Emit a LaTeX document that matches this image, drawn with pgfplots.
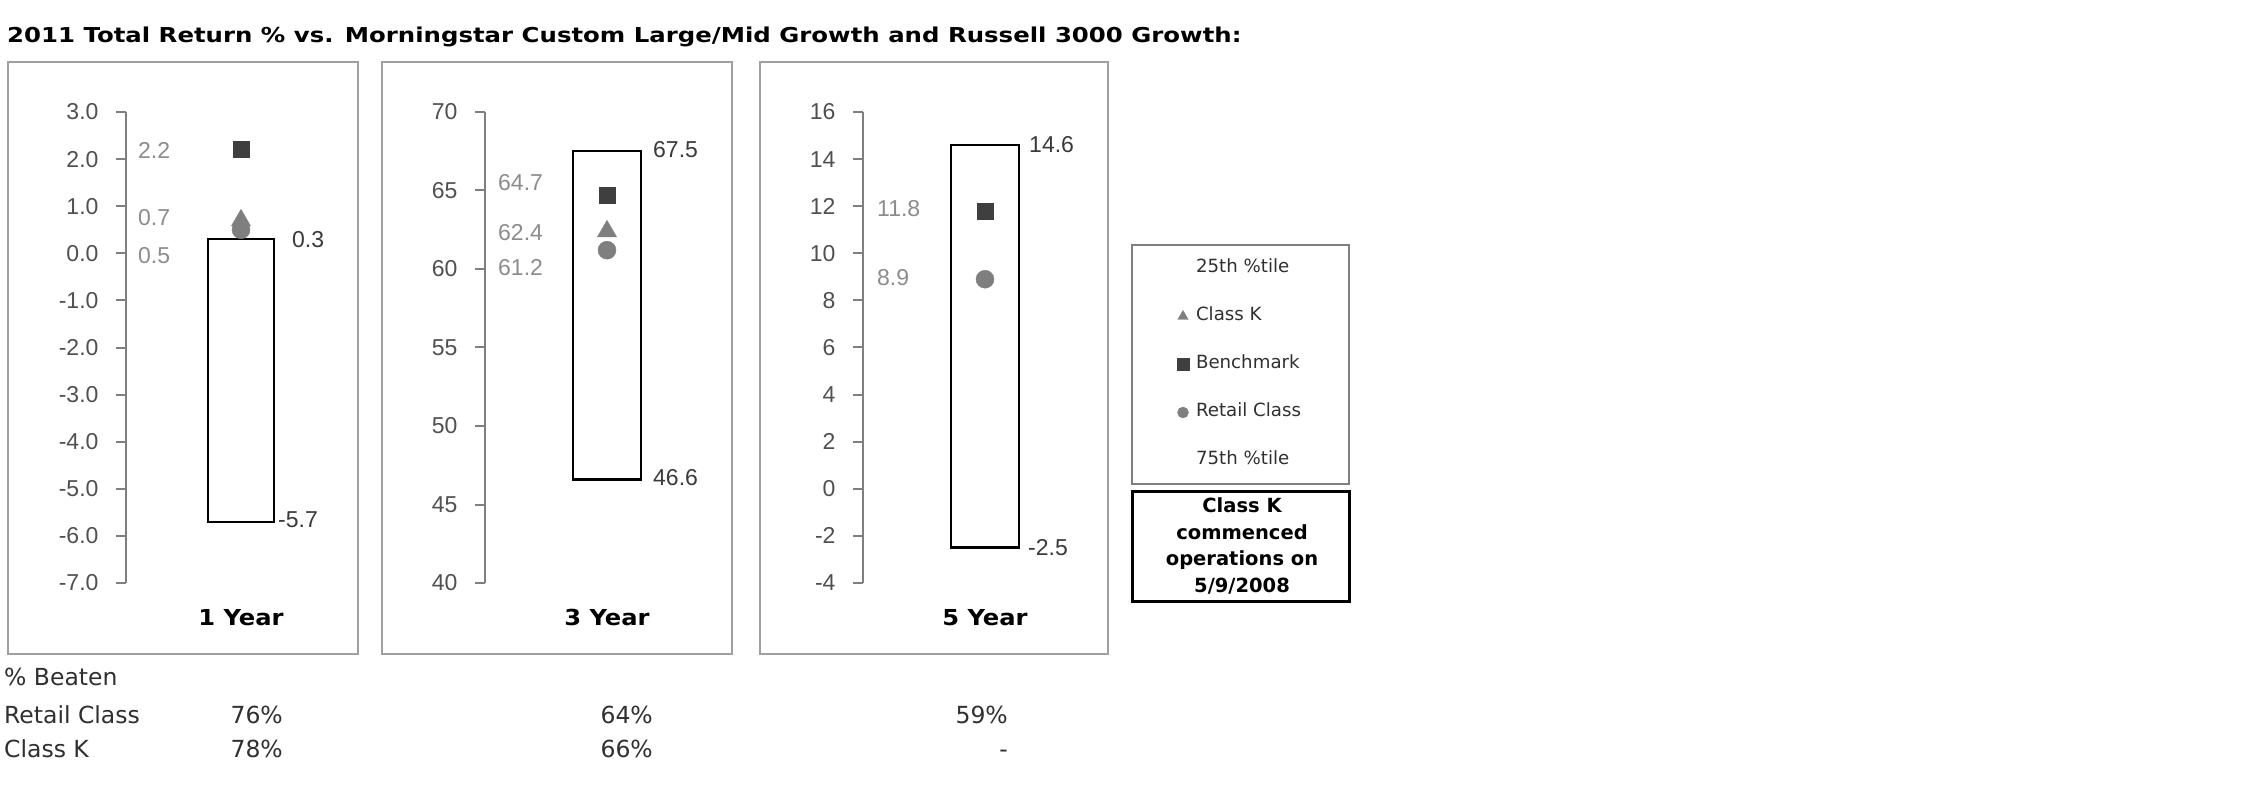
\documentclass[border=0pt]{standalone}
\usepackage{fontspec}
\setmainfont{Liberation Sans}
\newfontfamily\dv{DejaVu Sans}
\usepackage{pgfplots}
\pgfplotsset{compat=1.18}
\definecolor{tickc}{HTML}{505050}
\definecolor{axc}{HTML}{7F7F7F}
\definecolor{lblL}{HTML}{8C8C8C}
\definecolor{lblR}{HTML}{3A3A3A}
\definecolor{framec}{HTML}{A0A0A0}
\definecolor{mdark}{HTML}{3F3F3F}
\definecolor{mgray}{HTML}{7F7F7F}
\definecolor{txt}{HTML}{303030}
\newcommand{\lblfont}{\fontsize{23pt}{27pt}\selectfont}
\tikzset{
  lblL/.style={anchor=west, inner sep=0pt, text=lblL, font=\lblfont},
  lblR/.style={anchor=west, inner sep=0pt, text=lblR, font=\lblfont},
}
\pgfplotsset{panel/.style={
  scale only axis, width=250pt, height=471pt, xmin=0, xmax=250,
  axis y line*=left, axis x line=none, clip=false,
  axis line style={draw=axc, line width=2pt},
  tick align=outside, major tick length=10pt,
  ytick style={draw=axc, line width=2pt},
  xtick=\empty,
  yticklabel style={font=\lblfont, text=tickc, xshift=-14pt},
  /pgf/number format/assume math mode=true,
  anchor=south west,
},
boxp/.style={draw=black, line width=2.5pt, fill=white, line join=miter},
single mark legend/.style={legend image code/.code={\draw[##1] plot coordinates {(0pt,0pt)};}},
}
\begin{document}
\begin{tikzpicture}
\fill[white] (0pt,0pt) rectangle (2250pt,796pt);
\path[use as bounding box] (0pt,0pt) rectangle (2250pt,796pt);
% title
\node[anchor=base west, inner sep=0pt, text=black, font=\dv\bfseries\fontsize{20.5pt}{24pt}\selectfont] at (7pt,753pt) {\scalebox{1.19}[1]{2011 Total Return \% vs. Morningstar Custom Large/Mid Growth and Russell 3000 Growth:}};
% frames
\draw[framec, line width=2.5pt] (8pt,142pt) rectangle (358pt,734pt);
\draw[framec, line width=2.5pt] (382pt,142pt) rectangle (732pt,734pt);
\draw[framec, line width=2.5pt] (760pt,142pt) rectangle (1108pt,734pt);
% panel 1
\begin{axis}[panel, at={(126pt,213pt)}, ymin=-7, ymax=3, ytick={-7,-6,...,3},
  yticklabel style={/pgf/number format/fixed, /pgf/number format/fixed zerofill, /pgf/number format/precision=1}]
\addplot[boxp] coordinates {(82,-5.7) (148,-5.7) (148,0.3) (82,0.3)} --cycle;
\addplot[only marks, mark=*, mark size=9pt, color=mgray] coordinates {(115,0.5)};
\addplot[only marks, mark=triangle*, mark size=11pt, color=mgray] coordinates {(115,0.7)};
\addplot[only marks, mark=square*, mark size=8pt, color=mdark] coordinates {(115,2.2)};
\node[lblL] at (axis cs:12,2.18) {2.2};
\node[lblL] at (axis cs:12,0.75) {0.7};
\node[lblL] at (axis cs:12,-0.04) {0.5};
\node[lblR] at (axis cs:166,0.3) {0.3};
\node[lblR] at (axis cs:152,-5.66) {-5.7};
\end{axis}
% panel 2
\begin{axis}[panel, at={(485pt,213pt)}, ymin=40, ymax=70, ytick={40,45,...,70}]
\addplot[boxp] coordinates {(88,46.6) (156,46.6) (156,67.5) (88,67.5)} --cycle;
\addplot[only marks, mark=*, mark size=9pt, color=mgray] coordinates {(122,61.2)};
\addplot[only marks, mark=triangle*, mark size=11pt, color=mgray] coordinates {(122,62.4)};
\addplot[only marks, mark=square*, mark size=8pt, color=mdark] coordinates {(122,64.7)};
\node[lblL] at (axis cs:13,65.5) {64.7};
\node[lblL] at (axis cs:13,62.3) {62.4};
\node[lblL] at (axis cs:13,60.1) {61.2};
\node[lblR] at (axis cs:168,67.6) {67.5};
\node[lblR] at (axis cs:168,46.7) {46.6};
\end{axis}
% panel 3
\begin{axis}[panel, at={(863pt,213pt)}, ymin=-4, ymax=16, ytick={-4,-2,...,16},
  legend style={at={(1.256,0.6858)}, anchor=north west, draw=none, fill=none, inner sep=0pt, outer sep=0pt, row sep=31pt,
    nodes={font=\dv\fontsize{18.2pt}{20pt}\selectfont, text height=13pt, text depth=4pt, inner sep=0pt, text=txt},
    /tikz/every odd column/.style={column sep=7pt}},
  legend cell align=left]
\addplot[boxp, forget plot] coordinates {(88,-2.5) (156,-2.5) (156,14.6) (88,14.6)} --cycle;
\addplot[only marks, mark=*, mark size=9pt, color=mgray, forget plot] coordinates {(122,8.9)};
\addplot[only marks, mark=square*, mark size=8pt, color=mdark, forget plot] coordinates {(122,11.8)};
\node[lblL] at (axis cs:14,11.9) {11.8};
\node[lblL] at (axis cs:14,8.95) {8.9};
\node[lblR] at (axis cs:166,14.6) {14.6};
\node[lblR] at (axis cs:165,-2.5) {-2.5};
\addlegendimage{empty legend}
\addlegendentry{25th \%tile}
\addlegendimage{mark=triangle*, mark size=6pt, color=mgray, single mark legend}
\addlegendentry{Class K}
\addlegendimage{mark=square*, mark size=6pt, color=mdark, single mark legend}
\addlegendentry{Benchmark}
\addlegendimage{mark=*, mark size=5.5pt, color=mgray, single mark legend}
\addlegendentry{Retail Class}
\addlegendimage{empty legend}
\addlegendentry{75th \%tile}
\end{axis}
% year labels
\foreach \xx/\tt in {241/1 Year, 607/3 Year, 985/5 Year}
  \node[anchor=base, inner sep=0pt, font=\dv\bfseries\fontsize{22pt}{26pt}\selectfont] at (\xx pt,171pt) {\scalebox{1.1}[1]{\tt}};
% legend frame
\draw[axc, line width=2pt] (1132pt,312pt) rectangle (1349pt,551pt);
% class K box
\draw[black, line width=3pt] (1132pt,195pt) rectangle (1349pt,305pt);
\begin{scope}[every node/.style={anchor=base, inner sep=0pt, font=\dv\bfseries\fontsize{19.5pt}{22pt}\selectfont}]
\node at (1242pt,284pt) {Class K};
\node at (1242pt,257pt) {commenced};
\node at (1242pt,231pt) {operations on};
\node at (1242pt,204pt) {5/9/2008};
\end{scope}
% bottom table
\begin{scope}[every node/.style={inner sep=0pt, text=txt, font=\dv\fontsize{23.5pt}{27pt}\selectfont}]
\node[anchor=base west] at (4pt,111pt) {\% Beaten};
\node[anchor=base west] at (4pt,73pt) {Retail Class};
\node[anchor=base west] at (4pt,39pt) {Class K};
\node[anchor=base east] at (283pt,73pt) {76\%};
\node[anchor=base east] at (283pt,39pt) {78\%};
\node[anchor=base east] at (653pt,73pt) {64\%};
\node[anchor=base east] at (653pt,39pt) {66\%};
\node[anchor=base east] at (1008pt,73pt) {59\%};
\node[anchor=base east] at (1008pt,39pt) {-};
\end{scope}
\end{tikzpicture}
\end{document}
